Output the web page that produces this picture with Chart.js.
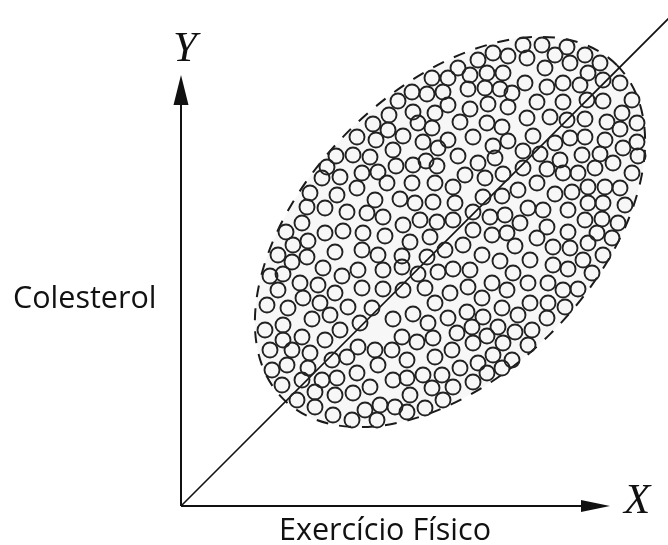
<!DOCTYPE html>
<html lang="pt">
<head>
    <meta charset="UTF-8">
    <title>Colesterol x Exercício Físico</title>
    <style>
        body {
            margin: 0;
            background-color: #ffffff;
        }
        #chart {
            display: block;
        }
    </style>
</head>
<body>
    <canvas id="chart" width="668" height="545"></canvas>
    <script src="https://cdn.jsdelivr.net/npm/chart.js"></script>
    <script>
        // units: origin where the two axes meet
        const axisX = [[0, 0], [402, 0]];
        const axisY = [[0, 0], [0, 403]];
        const arrowX = { tip: [429, 0], base: [400, 0], half: 6 };
        const arrowY = { tip: [0, 431], base: [0, 401], half: 7.5 };
        const trendLine = [[0, 0], [520, 520]];

        // dashed cloud outline: centre, semi-axes, tilt in degrees
        const cloud = { cx: 269, cy: 274, a: 236, b: 143, tilt: 45 };

        const dots = [
            [251,428],[231,414],[246,412],[217,405],[232,394],[254,393],[208,391],[192,382],[237,383],[251,378],
            [207,376],[222,370],[176,369],[195,366],[242,364],[257,358],[212,356],[155,350],[172,351],[189,349],
            [245,345],[146,339],[215,340],[232,341],[256,340],[197,334],[181,333],[159,329],[141,328],
            [312,453],[327,450],[342,461],[346,448],[361,461],[374,451],[386,459],[404,451],[389,443],[419,443],
            [297,446],[277,438],[289,431],[306,433],[322,433],[267,428],[364,438],[407,433],[422,426],[344,423],
            [382,423],[399,421],[439,423],[287,417],[304,418],[319,417],[331,413],[262,414],[366,419],[451,406],
            [406,406],[422,405],[356,404],[382,404],[267,401],[289,397],[307,402],[327,399],[441,393],[456,383],
            [346,388],[369,389],[386,386],[404,387],[426,384],[279,384],[306,383],[321,379],[439,377],[352,370],
            [389,368],[404,369],[424,366],[456,364],[267,366],[292,369],[312,360],[327,365],[374,363],[442,358],
            [342,355],[359,352],[379,346],[401,351],[419,352],[457,350],[277,350],[297,343],[314,348],[432,343],
            [284,331],[304,328],[322,332],[342,338],[366,337],[382,333],[397,333],[414,338],[451,333],
            [206,323],[231,323],[254,323],[176,318],[129,313],[156,311],[194,306],[219,307],[234,303],[252,304],
            [126,299],[144,298],[166,294],[186,293],[202,289],[222,281],[239,286],[256,284],[121,283],[105,274],
            [144,273],[162,275],[182,273],[204,270],[229,264],[249,269],[112,261],[127,265],[97,251],[154,254],
            [181,256],[197,251],[221,250],[246,249],[111,244],[126,249],[89,230],[102,232],[142,238],[161,230],
            [177,236],[202,236],[221,239],[237,232],[257,234],[97,216],[119,223],[137,221],[154,213],[181,218],
            [202,217],[222,216],[244,218],[254,203],[86,201],[107,198],[122,208],[139,203],[167,199],[191,198],
            [84,176],[102,181],[131,187],[149,191],[179,183],[159,176],[212,187],[232,192],[247,183],[89,156],
            [102,166],[111,156],[121,169],[129,153],[144,166],[151,146],[166,149],[177,159],[194,156],[211,156],
            [221,169],[236,164],[252,168],[91,136],[106,141],[127,138],[121,126],[141,126],[156,128],[176,133],
            [197,141],[226,146],[254,149],[242,131],[226,128],[212,126],[101,121],[116,106],[134,114],[134,99],
            [154,111],[172,113],[189,119],[229,111],[251,118],[214,99],[199,101],[184,96],[152,91],[171,86],
            [196,86],[226,94],[244,98],
            [267,188],[286,194],[302,189],[337,191],[366,188],[276,173],[291,179],[306,170],[317,179],[334,174],
            [351,176],[271,156],[292,163],[322,163],[347,161],[312,151],[297,143],[331,146],[279,138],[306,133],
            [321,138],[261,131],[272,119],[292,124],[262,106],
            [272,319],[337,316],[356,323],[374,312],[391,314],[407,319],[424,319],[439,318],[274,303],[302,309],
            [321,310],[347,298],[362,296],[387,296],[407,303],[422,303],[444,301],[272,286],[292,294],[309,289],
            [324,291],[339,283],[366,279],[404,286],[421,287],[437,283],[292,276],[311,271],[326,273],[356,268],
            [387,274],[416,273],[431,268],[264,256],[282,261],[334,260],[372,259],[389,258],[407,263],[422,251],
            [301,251],[319,245],[349,246],[372,241],[387,237],[402,246],[411,233],[272,237],[289,236],[332,233],
            [311,223],[326,216],[347,223],[367,223],[382,216],[397,217],[269,213],[287,219],[301,208],[321,198],
            [349,203],[367,203],[384,199]
        ];

        const labels = [
            { text: 'Colesterol', x: -168, y: 198, align: 'left', font: '30.5px "Open Sans"' },
            { text: 'Exercício Físico', x: 204, y: -34, align: 'center', font: '30.5px "Open Sans"' },
            { text: 'Y', x: 4, y: 445, align: 'center', font: 'italic 43px "Liberation Serif"' },
            { text: 'X', x: 443, y: -7, align: 'left', font: 'italic 43px "Liberation Serif"' }
        ];

        const toPts = arr => arr.map(p => ({ x: p[0], y: p[1] }));

        const cloudPlugin = {
            id: 'cloud',
            beforeDatasetsDraw(chart) {
                const { ctx, scales } = chart;
                const px = scales.x.getPixelForValue(cloud.cx);
                const py = scales.y.getPixelForValue(cloud.cy);
                const ra = scales.x.getPixelForValue(cloud.cx + cloud.a) - px;
                const rb = scales.x.getPixelForValue(cloud.cx + cloud.b) - px;
                ctx.save();
                ctx.beginPath();
                ctx.ellipse(px, py, ra, rb, -cloud.tilt * Math.PI / 180, 0, Math.PI * 2);
                ctx.fillStyle = 'rgba(0, 0, 0, 0.03)';
                ctx.fill();
                ctx.setLineDash([12, 11]);
                ctx.lineWidth = 2;
                ctx.strokeStyle = '#1a1a1a';
                ctx.stroke();
                ctx.restore();
            },
            afterDatasetsDraw(chart) {
                const { ctx, scales } = chart;
                ctx.save();
                ctx.fillStyle = '#111';
                [arrowX, arrowY].forEach(arw => {
                    const tx = scales.x.getPixelForValue(arw.tip[0]);
                    const ty = scales.y.getPixelForValue(arw.tip[1]);
                    const bx = scales.x.getPixelForValue(arw.base[0]);
                    const by = scales.y.getPixelForValue(arw.base[1]);
                    const len = Math.hypot(tx - bx, ty - by);
                    const nx = -(ty - by) / len, ny = (tx - bx) / len;
                    ctx.beginPath();
                    ctx.moveTo(tx, ty);
                    ctx.lineTo(bx + nx * arw.half, by + ny * arw.half);
                    ctx.lineTo(bx - nx * arw.half, by - ny * arw.half);
                    ctx.closePath();
                    ctx.fill();
                });
                ctx.textBaseline = 'alphabetic';
                labels.forEach(l => {
                    ctx.font = l.font;
                    ctx.textAlign = l.align;
                    ctx.fillText(l.text, scales.x.getPixelForValue(l.x), scales.y.getPixelForValue(l.y));
                });
                ctx.restore();
            }
        };

        const lineStyle = {
            showLine: true,
            pointRadius: 0,
            borderColor: '#111',
            backgroundColor: '#111',
            borderWidth: 2
        };

        new Chart(document.getElementById('chart'), {
            type: 'scatter',
            data: {
                datasets: [
                    { label: 'pontos', data: toPts(dots), pointStyle: 'circle', pointRadius: 7.5,
                      borderWidth: 1.9, borderColor: '#222', backgroundColor: 'rgba(0,0,0,0)' },
                    Object.assign({ label: 'tendência', data: toPts(trendLine) }, lineStyle, { borderWidth: 1.6 }),
                    Object.assign({ label: 'eixo X', data: toPts(axisX) }, lineStyle),
                    Object.assign({ label: 'eixo Y', data: toPts(axisY) }, lineStyle)
                ]
            },
            options: {
                responsive: false,
                animation: false,
                devicePixelRatio: 1,
                layout: { padding: 0, autoPadding: false },
                plugins: {
                    legend: { display: false },
                    tooltip: { enabled: false }
                },
                scales: {
                    x: { type: 'linear', min: -181, max: 487, display: false },
                    y: { type: 'linear', min: -39, max: 506, display: false }
                }
            },
            plugins: [cloudPlugin]
        });
    </script>
</body>
</html>
